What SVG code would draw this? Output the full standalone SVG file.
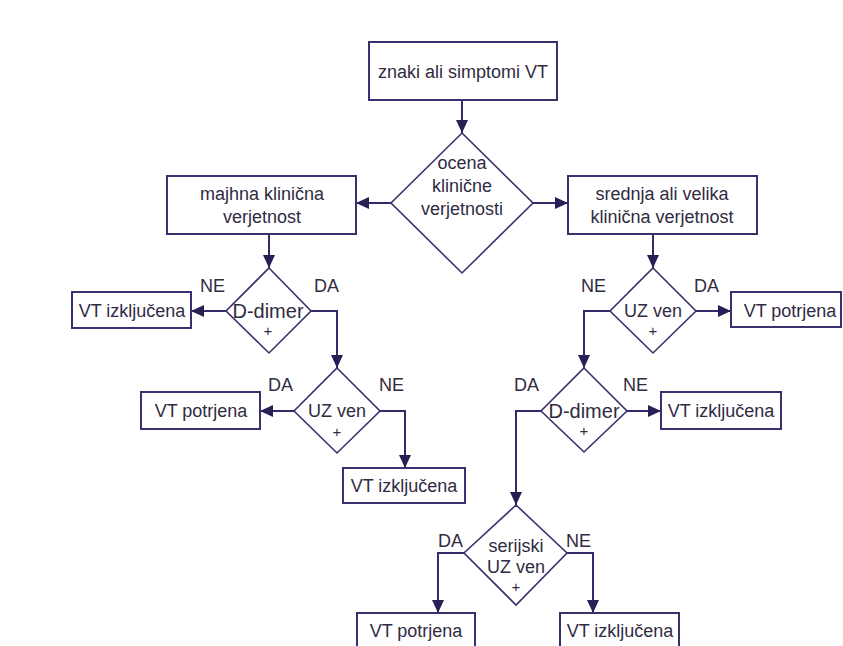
<svg xmlns="http://www.w3.org/2000/svg" width="843" height="646" viewBox="0 0 843 646">
<style>
.box{fill:#fff;stroke:#3b2f6e;stroke-width:2}
.dia{fill:#fff;stroke:#3b2f6e;stroke-width:1.6}
.ln{fill:none;stroke:#35296a;stroke-width:2}
text{font-family:"Liberation Sans",Arial,sans-serif;font-size:18px;fill:#302b42;text-anchor:middle}
.lbl{text-anchor:start}
.pl{font-size:15px}
.dd{font-size:20px}
</style>
<defs>
<marker id="ah" markerUnits="userSpaceOnUse" markerWidth="14" markerHeight="14" viewBox="0 0 14 14" refX="13" refY="7" orient="auto">
<path d="M0,1 L13,7 L0,13 Z" fill="#2a1f55"/>
</marker>
</defs>
<rect width="843" height="646" fill="#fff"/>

<g id="connectors">
<path class="ln" d="M462,100 V133" marker-end="url(#ah)"/>
<path class="ln" d="M391,203 H356" marker-end="url(#ah)"/>
<path class="ln" d="M533,203 H568" marker-end="url(#ah)"/>
<path class="ln" d="M269,234 V268" marker-end="url(#ah)"/>
<path class="ln" d="M226,311 H191" marker-end="url(#ah)"/>
<path class="ln" d="M311,311 H337 V368" marker-end="url(#ah)"/>
<path class="ln" d="M294,411 H260" marker-end="url(#ah)"/>
<path class="ln" d="M380,411 H405 V468" marker-end="url(#ah)"/>
<path class="ln" d="M653,234 V268" marker-end="url(#ah)"/>
<path class="ln" d="M696,311 H731" marker-end="url(#ah)"/>
<path class="ln" d="M610,311 H584 V368" marker-end="url(#ah)"/>
<path class="ln" d="M627,411 H661" marker-end="url(#ah)"/>
<path class="ln" d="M541,411 H516 V505" marker-end="url(#ah)"/>
<path class="ln" d="M464,553 H438 V613" marker-end="url(#ah)"/>
<path class="ln" d="M567,553 H593 V613" marker-end="url(#ah)"/>
</g>

<g id="start">
<rect class="box" x="369" y="42" width="188" height="58"/>
<text x="463" y="78">znaki ali simptomi VT</text>
</g>

<g id="ocena">
<path class="dia" d="M462,133 L533,203 L462,273 L391,203 Z"/>
<text x="462" y="169">ocena</text>
<text x="462" y="192">klinične</text>
<text x="462" y="215">verjetnosti</text>
</g>

<g id="majhna">
<rect class="box" x="167" y="176" width="189" height="58"/>
<text x="262" y="200">majhna klinična</text>
<text x="262" y="223">verjetnost</text>
</g>

<g id="srednja">
<rect class="box" x="568" y="176" width="189" height="58"/>
<text x="662" y="200">srednja ali velika</text>
<text x="662" y="223">klinična verjetnost</text>
</g>

<g id="ddimer-left">
<path class="dia" d="M269,268 L311,311 L269,353 L226,311 Z"/>
<text class="dd" x="268" y="318">D-dimer</text>
<text class="pl" x="268" y="336">+</text>
<text class="lbl" x="200" y="292">NE</text>
<text class="lbl" x="314" y="292">DA</text>
</g>

<g id="izkljucena-1">
<rect class="box" x="72" y="292" width="119" height="36"/>
<text x="132" y="317">VT izključena</text>
</g>

<g id="uzven-left">
<path class="dia" d="M337,368 L380,411 L337,453 L294,411 Z"/>
<text x="337" y="417">UZ ven</text>
<text class="pl" x="337" y="437">+</text>
<text class="lbl" x="268" y="391">DA</text>
<text class="lbl" x="379" y="391">NE</text>
</g>

<g id="potrjena-1">
<rect class="box" x="141" y="392" width="119" height="37"/>
<text x="201" y="417">VT potrjena</text>
</g>

<g id="izkljucena-2">
<rect class="box" x="343" y="468" width="122" height="35"/>
<text x="404" y="492">VT izključena</text>
</g>

<g id="uzven-right">
<path class="dia" d="M653,268 L696,311 L653,353 L610,311 Z"/>
<text x="653" y="317">UZ ven</text>
<text class="pl" x="653" y="336">+</text>
<text class="lbl" x="581" y="292">NE</text>
<text class="lbl" x="694" y="292">DA</text>
</g>

<g id="potrjena-2">
<rect class="box" x="731" y="292" width="110" height="35"/>
<text x="790" y="317">VT potrjena</text>
</g>

<g id="ddimer-right">
<path class="dia" d="M584,368 L627,411 L584,452 L541,411 Z"/>
<text class="dd" x="584" y="418">D-dimer</text>
<text class="pl" x="584" y="436">+</text>
<text class="lbl" x="514" y="391">DA</text>
<text class="lbl" x="623" y="391">NE</text>
</g>

<g id="izkljucena-3">
<rect class="box" x="661" y="392" width="120" height="37"/>
<text x="721" y="417">VT izključena</text>
</g>

<g id="serijski">
<path class="dia" d="M516,505 L567,553 L516,605 L464,553 Z"/>
<text x="516" y="552">serijski</text>
<text x="516" y="573">UZ ven</text>
<text class="pl" x="516" y="592">+</text>
<text class="lbl" x="438" y="547">DA</text>
<text class="lbl" x="566" y="547">NE</text>
</g>

<g id="potrjena-3">
<rect class="box" x="357" y="613" width="118" height="40"/>
<text x="416" y="637">VT potrjena</text>
</g>

<g id="izkljucena-4">
<rect class="box" x="560" y="613" width="119" height="40"/>
<text x="620" y="637">VT izključena</text>
</g>
</svg>
